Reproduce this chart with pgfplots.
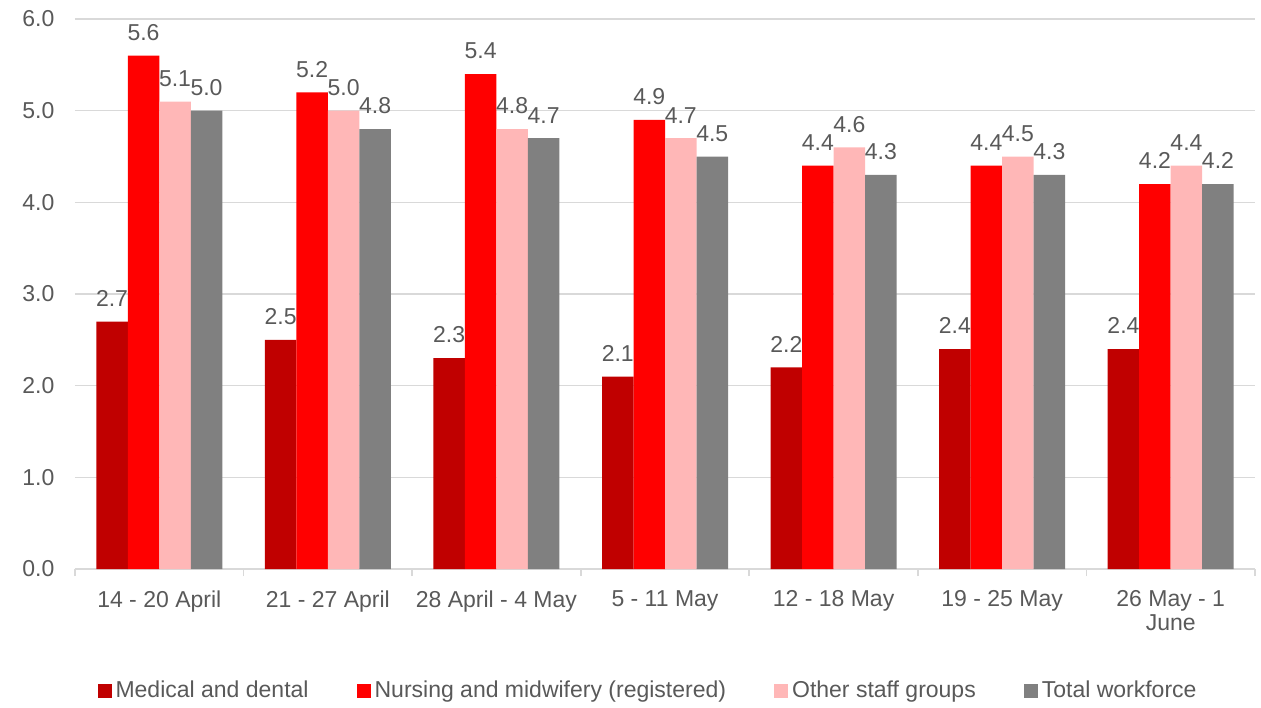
\documentclass[border=0pt]{standalone}
\usepackage{pgfplots}
\pgfplotsset{compat=1.18}
\usepackage{fontspec}
\setmainfont{Liberation Sans}

\definecolor{meddent}{HTML}{C00000}
\definecolor{nursing}{HTML}{FF0000}
\definecolor{otherstaff}{HTML}{FFB7B7}
\definecolor{totalwf}{HTML}{808080}
\definecolor{labeltext}{HTML}{595959}
\definecolor{gridgray}{HTML}{D9D9D9}

\pgfplotsset{
    every axis/.append style={font=\fontsize{11.5}{12}\selectfont},
    /pgf/number format/assume math mode=true,
}

\begin{document}
\begin{tikzpicture}
\useasboundingbox (-37.5pt,-69pt) rectangle (593pt,284.5pt);
\begin{axis}[
    at={(0,0)}, anchor=south west,
    scale only axis,
    width=590pt, height=275pt,
    ybar=0pt,
    bar width=15.75pt,
    xmin=-0.5, xmax=6.5,
    ymin=0, ymax=6,
    axis x line=bottom,
    axis y line=left,
    x axis line style={draw=gridgray, line width=0.8pt, -},
    y axis line style={draw=none},
    xtick={0,...,6},
    xticklabels={14 - 20 April, 21 - 27 April, 28 April - 4 May, 5 - 11 May,
        12 - 18 May, 19 - 25 May, {26 May - 1\\June}},
    xticklabel style={align=center, text=labeltext, anchor=north, yshift=-3pt},
    minor xtick={-0.5,0.5,...,6.5},
    major x tick style={draw=none},
    minor x tick style={draw=gridgray, line width=0.8pt},
    minor tick length=3.5pt,
    tick align=outside,
    ytick={0,1,...,6},
    yticklabel style={text=labeltext, /pgf/number format/.cd, fixed, fixed zerofill, precision=1},
    y tick style={draw=none},
    yticklabel shift=2.5pt,
    ymajorgrids=true,
    grid style={gridgray, line width=0.8pt},
    nodes near coords,
    nodes near coords style={text=labeltext, yshift=4pt, /pgf/number format/.cd, fixed, fixed zerofill, precision=1},
    legend columns=4,
    legend style={draw=none, at={(0.4856,-0.222)}, anchor=center,
        text=labeltext, inner sep=0pt,
        /tikz/every odd column/.append style={column sep=1pt},
        /tikz/every even column/.append style={column sep=23pt},
        nodes={inner sep=1pt}},
    legend image code/.code={\fill[#1] (0pt,-3.5pt) rectangle (7pt,3.5pt);},
    legend cell align=left,
]
\addplot[fill=meddent, draw=none] coordinates {(0,2.7) (1,2.5) (2,2.3) (3,2.1) (4,2.2) (5,2.4) (6,2.4)};
\addlegendentry{Medical and dental}
\addplot[fill=nursing, draw=none] coordinates {(0,5.6) (1,5.2) (2,5.4) (3,4.9) (4,4.4) (5,4.4) (6,4.2)};
\addlegendentry{Nursing and midwifery (registered)}
\addplot[fill=otherstaff, draw=none] coordinates {(0,5.1) (1,5.0) (2,4.8) (3,4.7) (4,4.6) (5,4.5) (6,4.4)};
\addlegendentry{Other staff groups}
\addplot[fill=totalwf, draw=none] coordinates {(0,5.0) (1,4.8) (2,4.7) (3,4.5) (4,4.3) (5,4.3) (6,4.2)};
\addlegendentry{Total workforce}
\end{axis}
\end{tikzpicture}
\end{document}
